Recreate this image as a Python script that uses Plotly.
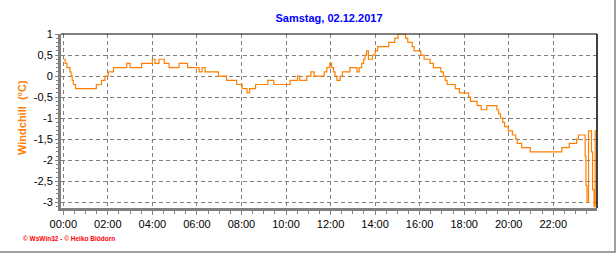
import plotly.graph_objects as go

# ---- data ----
day = "2017-12-02"
times = ["00:00","00:05","00:10","00:18","00:21","00:24","00:27","00:33","01:29","01:43",
         "01:52","02:01","02:15","02:51","03:00","03:31","04:00","04:07","04:18","04:32",
         "04:45","05:12","05:35","06:06","06:14","06:22","06:58","07:20","07:47","08:02",
         "08:15","08:22","08:38","09:11","09:27","10:11","10:31","10:37","10:56","11:07",
         "11:16","11:43","11:50","11:58","12:03","12:08","12:12","12:17","12:26","12:32",
         "12:52","13:11","13:17","13:24","13:29","13:33","13:37","13:42","13:53","14:00",
         "14:07","14:37","14:53","15:02","15:22","15:28","15:40","15:45","16:03","16:12",
         "16:28","16:37","16:57","17:04","17:09","17:14","17:36","17:47","18:12","18:17",
         "18:35","18:46","19:01","19:28","19:33","19:38","19:44","19:49","19:59","20:10",
         "20:19","20:23","20:35","20:58","22:23","22:43","23:03","23:08","23:26","23:28",
         "23:31","23:35","23:43","23:46","23:50","23:53","23:56"]
windchill = [0.4,0.3,0.2,0.1,0.0,-0.1,-0.2,-0.3,-0.2,-0.1,
             0.0,0.1,0.2,0.3,0.2,0.3,0.4,0.3,0.4,0.3,
             0.2,0.3,0.2,0.1,0.2,0.1,0.0,-0.1,-0.2,-0.3,
             -0.4,-0.3,-0.2,-0.1,-0.2,-0.1,0.0,-0.1,0.0,0.1,
             0.0,0.1,0.2,0.3,0.2,0.1,0.0,-0.1,0.0,0.1,
             0.2,0.1,0.2,0.3,0.4,0.5,0.6,0.4,0.5,0.6,
             0.7,0.8,0.9,1.0,0.9,0.8,0.7,0.6,0.5,0.4,
             0.3,0.2,0.1,0.0,-0.1,-0.2,-0.3,-0.4,-0.5,-0.6,
             -0.7,-0.8,-0.7,-0.8,-0.9,-1.0,-1.1,-1.2,-1.3,-1.4,
             -1.5,-1.6,-1.7,-1.8,-1.7,-1.6,-1.5,-1.4,-1.9,-2.6,
             -3.0,-1.3,-1.8,-2.7,-3.1,-1.3,-1.3]
tick_times = ["00:00","02:00","04:00","06:00","08:00","10:00","12:00",
              "14:00","16:00","18:00","20:00","22:00"]
y_ticks = [1, 0.5, 0, -0.5, -1, -1.5, -2, -2.5, -3]
y_tick_labels = ["1", "0,5", "0", "-0,5", "-1", "-1,5", "-2", "-2,5", "-3"]

title_text = "Samstag, 02.12.2017"
ytitle_text = "Windchill\u00a0 (°C)"
footer_text = "© WsWin32 - © Heiko Blödorn"

# ---- layout geometry ----
W, H = 616, 253
ML, MR, MT, MB = 61, 19, 34, 45
PW, PH = W - ML - MR, H - MT - MB

def px_x(p):
    return (p - ML) / PW

def px_y(p):
    return (H - MB - p) / PH

orange = "#ff8000"
grid = "#808080"

x_vals = [f"{day} {t}" for t in times]

fig = go.Figure()
fig.add_trace(go.Scatter(
    x=x_vals, y=windchill, mode="lines",
    line=dict(color=orange, width=1.2, shape="hv"),
    hoverinfo="skip", showlegend=False,
))

fig.update_layout(
    width=W, height=H,
    margin=dict(l=ML, r=MR, t=MT, b=MB, pad=0),
    paper_bgcolor="white", plot_bgcolor="white",
    font=dict(family="Liberation Sans, Arial, sans-serif", size=11, color="black"),
    title=dict(text=f"<b>{title_text}</b>", x=0.5, xref="paper", xanchor="center",
               y=1 - 18 / H, yref="container", yanchor="middle",
               font=dict(size=11, color="#0000ff")),
    showlegend=False,
)

fig.update_xaxes(
    type="date",
    range=["2017-12-01 23:53:50", "2017-12-02 23:57:50"],
    tickvals=[f"{day} {t}" for t in tick_times],
    ticktext=tick_times,
    showgrid=True, gridcolor=grid, griddash="4px,3px", gridwidth=1,
    showline=True, linecolor=grid, linewidth=3,
    ticks="outside", ticklen=4, tickcolor=grid, tickwidth=1,
    minor=dict(dtick=30 * 60 * 1000, ticks="outside", ticklen=3, tickcolor=grid,
               showgrid=False),
    zeroline=False, fixedrange=True,
)
fig.update_yaxes(
    range=[-3.135, 1.0],
    tickvals=y_ticks, ticktext=y_tick_labels,
    showgrid=True, gridcolor=grid, griddash="4px,3px", gridwidth=1,
    showline=True, linecolor=grid, linewidth=3,
    ticks="outside", ticklen=3, tickcolor=grid, tickwidth=1,
    minor=dict(dtick=0.1, tick0=0, ticks="outside", ticklen=2, tickcolor=grid,
               showgrid=False),
    zeroline=False, fixedrange=True,
)

# black top and right frame of the plot area
fig.add_shape(type="line", xref="paper", yref="paper", x0=0, x1=1, y0=1, y1=1,
              line=dict(color="black", width=1))
fig.add_shape(type="line", xref="paper", yref="paper", x0=1, x1=1, y0=0, y1=1,
              line=dict(color="black", width=1.5))
# outer grey frame (right and bottom)
fig.add_shape(type="line", xref="paper", yref="paper",
              x0=px_x(615), x1=px_x(615), y0=px_y(0), y1=px_y(252),
              line=dict(color="#a0a0a0", width=2))
fig.add_shape(type="line", xref="paper", yref="paper",
              x0=px_x(0), x1=px_x(616), y0=px_y(252), y1=px_y(252),
              line=dict(color="#a0a0a0", width=2))

# y-axis title
fig.add_annotation(text=f"<b>{ytitle_text}</b>", xref="paper", yref="paper",
                   x=px_x(22), y=px_y(118), xanchor="center", yanchor="middle",
                   textangle=-90, showarrow=False,
                   font=dict(size=11, color=orange))
# footer
fig.add_annotation(text=f"<b>{footer_text}</b>", xref="paper", yref="paper",
                   x=px_x(21), y=px_y(238), xanchor="left", yanchor="middle",
                   showarrow=False,
                   font=dict(size=6.5, color="#ff0000"))

fig.write_html("out.html")
